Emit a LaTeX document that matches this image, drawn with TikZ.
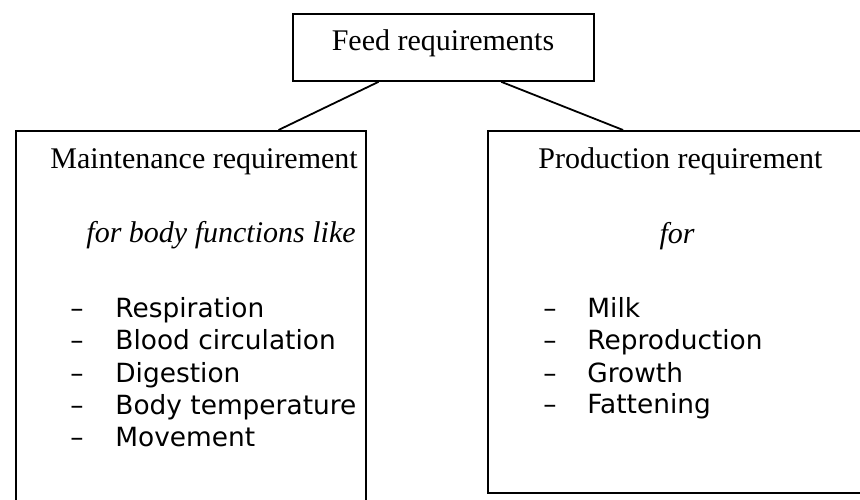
\documentclass[tikz,border=0pt]{standalone}
\usepackage{fontspec}
\setmainfont{Liberation Serif}
\newfontfamily\listfont{DejaVu Sans}
\usepackage{tikz}
\usetikzlibrary{calc}

\begin{document}
\begin{tikzpicture}[
  x=0.5pt,y=-0.5pt,
  panel/.style={draw,line width=0.9pt,anchor=north west,inner sep=0pt},
  head/.style={font=\fontsize{15}{18}\selectfont,inner sep=0pt},
  item/.style={font=\listfont\fontsize{13.2}{16}\selectfont,inner sep=0pt,anchor=base west},
  link/.style={line width=0.9pt}
]
\useasboundingbox (0,0) rectangle (860,499);
\clip (0,0) rectangle (860,499);
% boxes
\node[panel,minimum width=150.5pt,minimum height=33.5pt] (feed) at (292,13) {};
\node[panel,minimum width=175pt,minimum height=190pt] (maint) at (15,130) {};
\node[panel,minimum width=194pt,minimum height=181pt] (prod) at (487,130) {};
% titles
\node[head,anchor=base] (feedtxt) at (443,50) {Feed requirements};
\node[head,anchor=base west] (mainttxt) at (50,168) {Maintenance requirement};
\node[head,anchor=base east] (maintfor) at (356,242) {\itshape for body functions like};
\node[head,anchor=base west] (prodtxt) at (538,168) {Production requirement};
\node[head,anchor=base] (prodfor) at (677,243) {\itshape for};
% lists
\foreach \txt/\y [count=\i] in {Respiration/317,Blood circulation/349,Digestion/382,Body temperature/414,Movement/446}{
  \node[item] (mdash\i) at (70,\y) {\textendash};
  \node[item] (mitem\i) at (115,\y) {\txt};
}
\foreach \txt/\y [count=\i] in {Milk/317,Reproduction/349,Growth/382,Fattening/413}{
  \node[item] (pdash\i) at (543,\y) {\textendash};
  \node[item] (pitem\i) at (587,\y) {\txt};
}
% connectors
\draw[link] ($(feed.south west)!0.286!(feed.south east)$) -- ($(maint.north west)!0.749!(maint.north east)$);
\draw[link] ($(feed.south west)!0.691!(feed.south east)$) -- ($(prod.north west)!0.349!(prod.north east)$);
\end{tikzpicture}
\end{document}
